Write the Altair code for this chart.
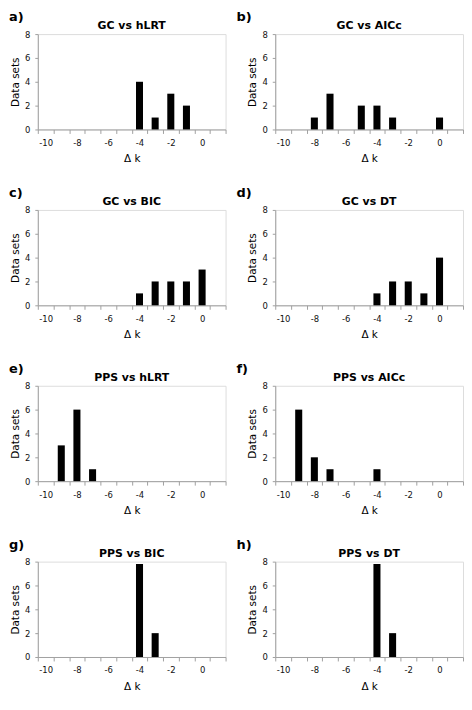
import json
import altair as alt
import pandas as pd

# ---- data ----
categories = list(range(-10, 2))          # delta k categories on the x axis
tick_labels = ["-10", "-8", "-6", "-4", "-2", "0"]
y_ticks = [0, 2, 4, 6, 8]

letters = ["a)", "b)", "c)", "d)", "e)", "f)", "g)", "h)"]
titles = ["GC vs hLRT", "GC vs AICc", "GC vs BIC", "GC vs DT",
          "PPS vs hLRT", "PPS vs AICc", "PPS vs BIC", "PPS vs DT"]

a_k = [-4, -3, -2, -1];            a_n = [4, 1, 3, 2]
b_k = [-8, -7, -5, -4, -3, 0];     b_n = [1, 3, 2, 2, 1, 1]
c_k = [-4, -3, -2, -1, 0];         c_n = [1, 2, 2, 2, 3]
d_k = [-4, -3, -2, -1, 0];         d_n = [1, 2, 2, 1, 4]
e_k = [-9, -8, -7];                e_n = [3, 6, 1]
f_k = [-9, -8, -7, -4];            f_n = [6, 2, 1, 1]
g_k = [-4, -3];                    g_n = [7.8, 2]
h_k = [-4, -3];                    h_n = [7.8, 2]

series = [(a_k, a_n), (b_k, b_n), (c_k, c_n), (d_k, d_n),
          (e_k, e_n), (f_k, f_n), (g_k, g_n), (h_k, h_n)]

# ---- style ----
FONT = "DejaVu Sans"
W, H = 189, 96
AX = "#a0a0a0"
label_expr = "indexof(" + json.dumps(tick_labels) + ", datum.label) >= 0 ? datum.label : ''"


def panel(i):
    ks, ns = series[i]
    df = pd.DataFrame({"k": ks, "n": ns})
    col = i % 2
    bars = alt.Chart(df).mark_bar(color="black", width=alt.RelativeBandSize(0.45)).encode(
        x=alt.X("k:O",
                scale=alt.Scale(domain=categories, paddingInner=0, paddingOuter=0),
                axis=alt.Axis(title="Δ k", labelExpr=label_expr, labelAngle=0,
                              tickBand="extent", tickSize=4, labelPadding=5,
                              labelFontSize=8.5, labelFont=FONT, labelColor="#111111",
                              titleFont=FONT, titleFontSize=10.5, titleFontWeight="normal",
                              titleColor="black", titlePadding=7,
                              domainColor=AX, tickColor=AX, grid=False)),
        y=alt.Y("n:Q",
                scale=alt.Scale(domain=[0, 8], nice=False),
                axis=alt.Axis(title="Data sets", values=y_ticks, tickSize=3,
                              labelPadding=5, labelFontSize=8.5, labelFont=FONT,
                              labelColor="#111111", titleFont=FONT, titleFontSize=10.5,
                              titleFontWeight="normal", titleColor="black",
                              titlePadding=4, domainColor=AX, tickColor=AX,
                              grid=False)),
    )
    lab = alt.Chart(pd.DataFrame({"t": [letters[i]]})).mark_text(
        font=FONT, fontSize=13, fontWeight="bold", align="left", baseline="middle",
        color="black"
    ).encode(x=alt.value(-29 if col == 0 else -39), y=alt.value(-17), text="t:N")
    ttl = alt.Chart(pd.DataFrame({"t": [titles[i]]})).mark_text(
        font=FONT, fontSize=11, fontWeight="bold", align="center", baseline="middle",
        color="black"
    ).encode(x=alt.value(W / 2), y=alt.value(-8), text="t:N")
    return alt.layer(bars, lab, ttl).properties(width=W, height=H)


rows = [alt.hconcat(panel(2 * r), panel(2 * r + 1), spacing=9) for r in range(4)]
chart = alt.vconcat(*rows, spacing=21).properties(padding=0).configure_view(
    stroke=None).configure(font=FONT)

chart.save("out.html", embed_options={"renderer": "svg", "actions": False})
